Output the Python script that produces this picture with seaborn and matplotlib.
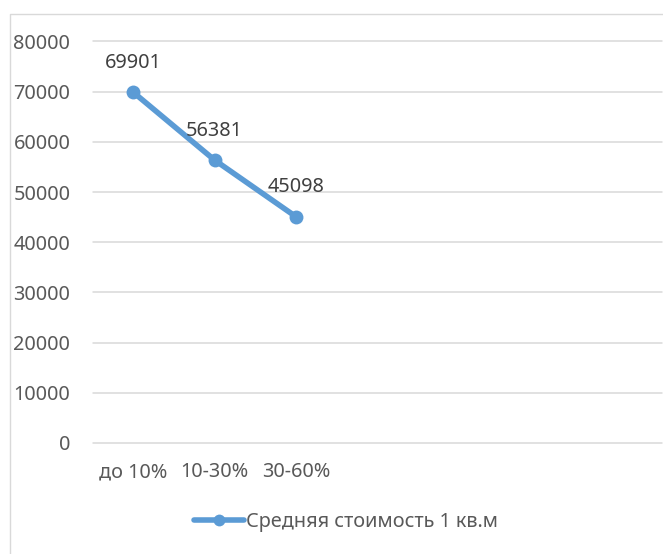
import matplotlib
matplotlib.use("Agg")
import matplotlib.pyplot as plt
from matplotlib.lines import Line2D
import seaborn as sns
import pandas as pd

# Data
categories = ["до 10%", "10-30%", "30-60%"]
avg_price = [69901, 56381, 45098]
series_name = "Средняя стоимость 1 кв.м"
y_ticks = [0, 10000, 20000, 30000, 40000, 50000, 60000, 70000, 80000]
n_slots = 7  # category slots on the horizontal axis

sns.set_theme(style="white")
plt.rcParams["font.family"] = ["Noto Sans", "DejaVu Sans"]

LINE_BLUE = "#5B9BD5"
GRID = "#D9D9D9"
TEXT = "#595959"
FS = 14.3

W, H = 663, 554
fig = plt.figure(figsize=(W / 100, H / 100), dpi=100)
fig.patch.set_facecolor("white")

left, right, top, bottom = 92.5, 662, 41.5, 443
ax = fig.add_axes([left / W, 1 - bottom / H, (right - left) / W, (bottom - top) / H])

df = pd.DataFrame({"pos": range(len(categories)), "cat": categories, "price": avg_price})
sns.lineplot(data=df, x="pos", y="price", ax=ax, color=LINE_BLUE, linewidth=4.0,
             marker="o", markersize=10, markeredgewidth=0, markerfacecolor=LINE_BLUE,
             solid_capstyle="round", legend=False)

ax.set_xlim(-0.5, n_slots - 0.5)
ax.set_ylim(y_ticks[0], y_ticks[-1])
ax.set_yticks(y_ticks)
ax.set_yticklabels([str(v) for v in y_ticks], fontsize=FS, color=TEXT)
ax.set_xticks(range(len(categories)))
ax.set_xticklabels(categories, fontsize=FS, color=TEXT)
ax.tick_params(axis="y", length=0, pad=16)
ax.tick_params(axis="x", length=0, pad=14)
ax.set_xlabel("")
ax.set_ylabel("")
ax.grid(axis="y", color=GRID, linewidth=1.1)
ax.grid(axis="x", visible=False)
for gl in ax.get_ygridlines():
    gl.set_clip_on(False)
for s in ax.spines.values():
    s.set_visible(False)
ax.set_axisbelow(True)

# Data labels above the points
for i, v in enumerate(avg_price):
    ax.annotate(str(v), (i, v), xytext=(0, 21), textcoords="offset points",
                ha="center", va="center", fontsize=FS, color="#404040")

# Legend below the plot
handle = Line2D([], [], color=LINE_BLUE, linewidth=4.0, marker="o", markersize=8.5,
                markeredgewidth=0, solid_capstyle="round")
fig.legend([handle], [series_name], loc="center", bbox_to_anchor=(346 / W, 1 - 522 / H),
           frameon=False, fontsize=FS, labelcolor=TEXT, handlelength=2.5,
           handletextpad=0.1, borderaxespad=0)

# Chart area border (left and top edges)
fig.add_artist(Line2D([10 / W, 10 / W, 1.0], [0.0, 1 - 14 / H, 1 - 14 / H],
                      transform=fig.transFigure, color=GRID, linewidth=1.0))

fig.savefig("out.png", dpi=100, facecolor="white")
